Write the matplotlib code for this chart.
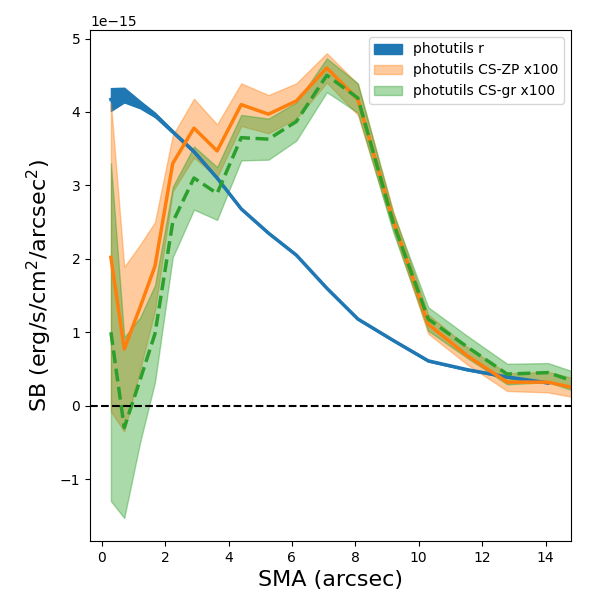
import numpy as np
import matplotlib
matplotlib.use("Agg")
import matplotlib.pyplot as plt

# SMA grid (arcsec)
sma_r = [0.29, 0.71, 1.21, 1.68, 2.24, 2.91, 3.64, 4.40, 5.26, 6.14, 7.10, 8.08,
         9.19, 10.30, 11.53, 12.79, 14.08]
sma_cs = [0.29, 0.71, 1.21, 1.68, 2.24, 2.91, 3.64, 4.40, 5.26, 6.14, 7.10, 8.08,
          9.19, 10.30, 11.53, 12.79, 14.08, 15.45]

# surface brightness in units of 1e-15 erg/s/cm^2/arcsec^2
sb_r = [4.17, 4.23, 4.10, 3.96, 3.73, 3.46, 3.10, 2.68, 2.35, 2.05, 1.60, 1.18,
        0.89, 0.61, 0.49, 0.39, 0.31]
err_r = [0.155, 0.10, 0.05, 0.03, 0.02, 0.02, 0.015, 0.01, 0.01, 0.01, 0.01, 0.01,
         0.01, 0.01, 0.01, 0.01, 0.01]

sb_zp = [2.02, 0.77, 1.34, 1.90, 3.30, 3.78, 3.47, 4.10, 3.97, 4.15, 4.60, 4.17,
         2.53, 1.11, 0.68, 0.32, 0.32, 0.19]
err_zp = [2.10, 1.12, 0.85, 0.60, 0.38, 0.40, 0.36, 0.29, 0.26, 0.24, 0.20, 0.21,
          0.12, 0.13, 0.12, 0.12, 0.14, 0.12]

sb_gr = [1.00, -0.30, 0.35, 0.98, 2.50, 3.10, 2.89, 3.65, 3.63, 3.87, 4.50, 4.19,
         2.50, 1.18, 0.80, 0.43, 0.45, 0.25]
err_gr = [2.30, 1.23, 0.85, 0.66, 0.48, 0.43, 0.36, 0.31, 0.28, 0.26, 0.23, 0.20,
          0.13, 0.16, 0.15, 0.14, 0.13, 0.13]

scale = 1e-15

x_r = np.array(sma_r)
y_r = np.array(sb_r) * scale
e_r = np.array(err_r) * scale
x_cs = np.array(sma_cs)
y_zp = np.array(sb_zp) * scale
e_zp = np.array(err_zp) * scale
y_gr = np.array(sb_gr) * scale
e_gr = np.array(err_gr) * scale

fig = plt.figure(figsize=(6, 6), dpi=100)
ax = fig.add_axes([0.15, 0.098, 0.802, 0.852])

ax.fill_between(x_r, y_r - e_r, y_r + e_r, color="C0", label="photutils r")
ax.fill_between(x_cs, y_zp - e_zp, y_zp + e_zp, color="C1", alpha=0.4,
                label="photutils CS-ZP x100")
ax.fill_between(x_cs, y_gr - e_gr, y_gr + e_gr, color="C2", alpha=0.4,
                label="photutils CS-gr x100")

ax.plot(x_r, y_r, color="C0", lw=2.5)
ax.plot(x_cs, y_zp, color="C1", lw=2.5)
ax.plot(x_cs, y_gr, color="C2", lw=2.5, ls="--")

ax.axhline(0, color="k", ls="--", lw=1.5)

ax.set_xlim(-0.37, 14.81)
ax.set_xlabel("SMA (arcsec)", fontsize=16)
ax.set_ylabel("SB (erg/s/cm$^2$/arcsec$^2$)", fontsize=16)
ax.legend(loc="upper right")

fig.savefig("out.png", dpi=100)
